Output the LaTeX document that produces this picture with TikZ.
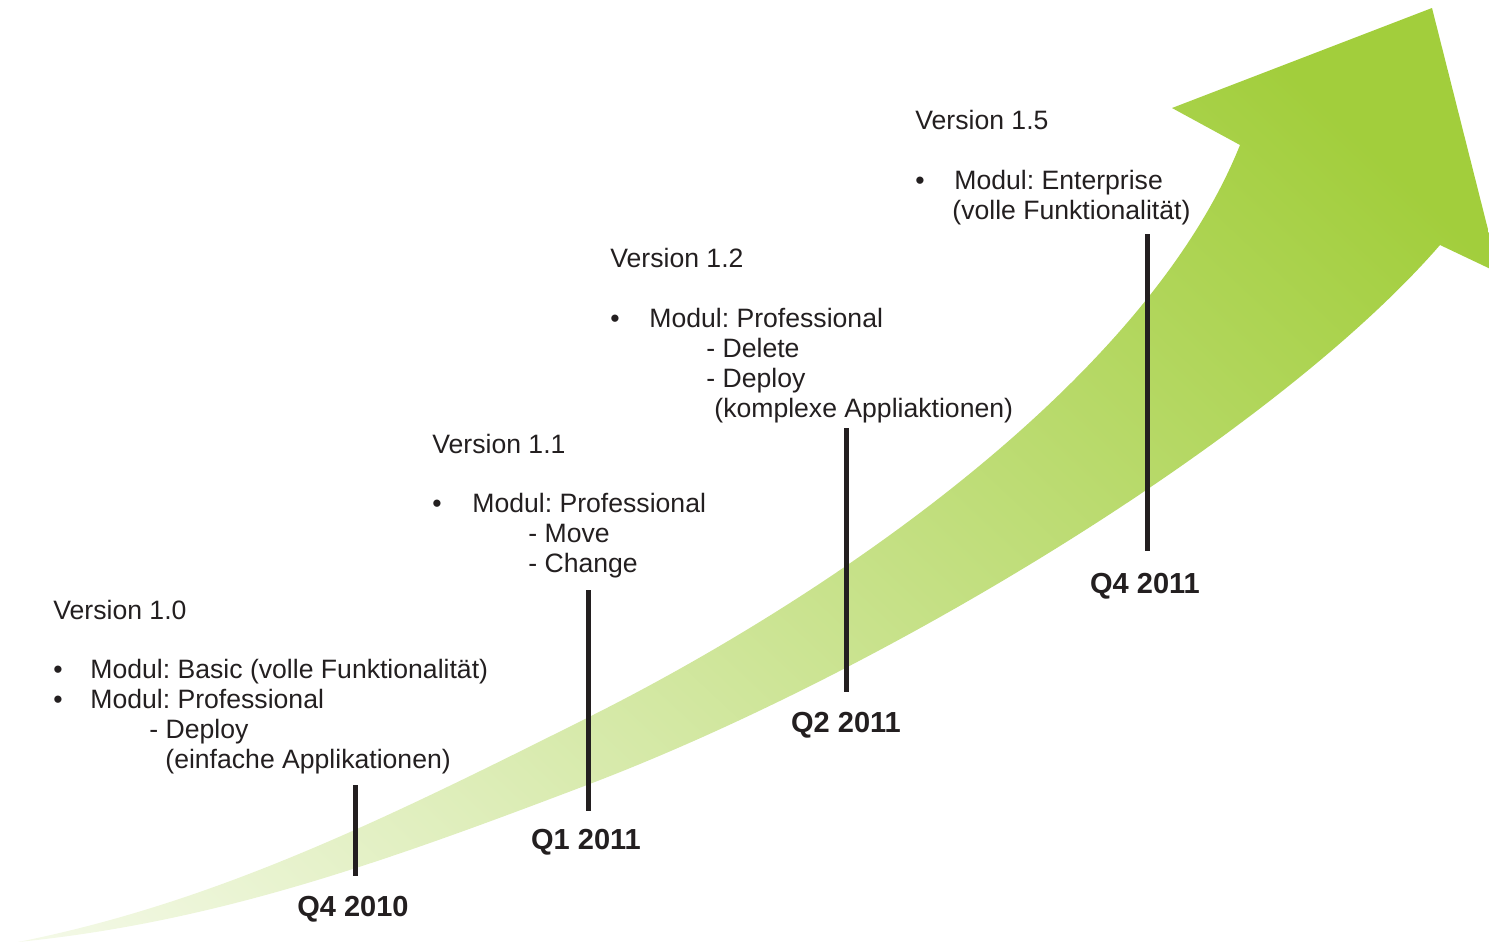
\documentclass[tikz,border=0pt]{standalone}
\usepackage{fontspec}
\setmainfont{Liberation Sans}
\usetikzlibrary{positioning}
\definecolor{arrowgreen}{RGB}{162,206,60}
\definecolor{inkgray}{RGB}{35,31,32}
\frenchspacing

\begin{document}
\begin{tikzpicture}[
  x=0.5pt, y=-0.5pt,
  txt/.style = {anchor=base west, inner sep=0pt, font=\fontsize{13.3}{15}\selectfont, text=inkgray},
  qlabel/.style = {inner sep=0pt, font=\fontsize{14.5}{16}\selectfont\bfseries, text=inkgray},
  tick/.style = {draw=inkgray, line width=2.5pt}
  ]
	\useasboundingbox (0,0) rectangle (1489,944);

	% the rising arrow, shaded from the tail to the head
	\begin{scope}
	\clip (18,942) .. controls (218,902) and (387,818) .. (587,718)
	  .. controls (837,593) and (1147,377) .. (1240,145)
	  -- (1172,108) -- (1432,8) -- (1499,273) -- (1440,245)
	  .. controls (1276,434) and (887,671) .. (587,785)
	  .. controls (387,861) and (218,922) .. (18,942) -- cycle;
	\shade[bottom color=white, top color=arrowgreen, shading angle=-43] (-155,-172) rectangle (1555,1538);
	\end{scope}

	\coordinate (@t1) at (355,785);
	\coordinate (@b1) at (355,876);
	\coordinate (@t2) at (588,590);
	\coordinate (@b2) at (588,811);
	\coordinate (@t3) at (846,428);
	\coordinate (@b3) at (846,692);
	\coordinate (@t4) at (1147,234);
	\coordinate (@b4) at (1147,551);

	\draw[tick] (@t1) -- (@b1);
	\draw[tick] (@t2) -- (@b2);
	\draw[tick] (@t3) -- (@b3);
	\draw[tick] (@t4) -- (@b4);

	\node[qlabel, below=10pt of @b1, xshift=-1pt] (q1) {Q4 2010};
	\node[qlabel, below=9pt of @b2, xshift=-1pt] (q2) {Q1 2011};
	\node[qlabel, below=10pt of @b3] (q3) {Q2 2011};
	\node[qlabel, below=11pt of @b4, xshift=-1pt] (q4) {Q4 2011};

	% Version 1.0
	\node[txt] (v10)  at (53,619)  {Version 1.0};
	\node[txt] (v10p) at (53,678)  {\textbullet};
	\node[txt] (v10a) at (90,678)  {Modul: Basic (volle Funktionalität)};
	\node[txt] (v10q) at (53,708)  {\textbullet};
	\node[txt] (v10b) at (90,708)  {Modul: Professional};
	\node[txt] (v10c) at (149,738) {- Deploy};
	\node[txt] (v10d) at (165,768) {(einfache Applikationen)};

	% Version 1.1
	\node[txt] (v11)  at (432,453) {Version 1.1};
	\node[txt] (v11p) at (432,512) {\textbullet};
	\node[txt] (v11a) at (472,512) {Modul: Professional};
	\node[txt] (v11b) at (528,542) {- Move};
	\node[txt] (v11c) at (528,572) {- Change};

	% Version 1.2
	\node[txt] (v12)  at (610,267) {Version 1.2};
	\node[txt] (v12p) at (610,327) {\textbullet};
	\node[txt] (v12a) at (649,327) {Modul: Professional};
	\node[txt] (v12b) at (706,357) {- Delete};
	\node[txt] (v12c) at (706,387) {- Deploy};
	\node[txt] (v12d) at (714,417) {(komplexe Appliaktionen)};

	% Version 1.5
	\node[txt] (v15)  at (915,129) {Version 1.5};
	\node[txt] (v15p) at (915,189) {\textbullet};
	\node[txt] (v15a) at (954,189) {Modul: Enterprise};
	\node[txt] (v15b) at (952,219) {(volle Funktionalität)};

\end{tikzpicture}
\end{document}
